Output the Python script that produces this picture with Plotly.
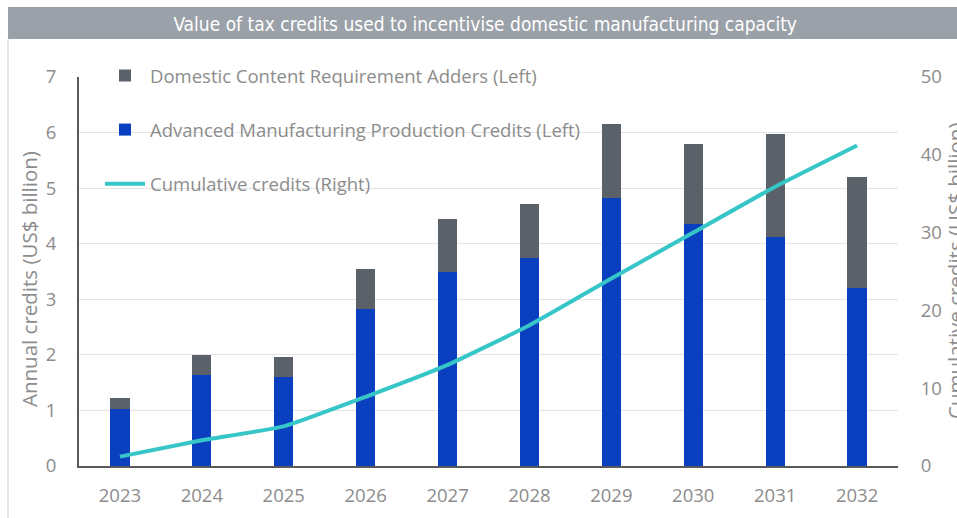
import plotly.graph_objects as go

years = ["2023", "2024", "2025", "2026", "2027", "2028", "2029", "2030", "2031", "2032"]
amp_credits = [1.02, 1.64, 1.60, 2.82, 3.49, 3.75, 4.83, 4.35, 4.12, 3.20]
dcr_adders = [0.20, 0.36, 0.37, 0.73, 0.95, 0.96, 1.33, 1.44, 1.85, 2.00]
cumulative = [1.2, 3.3, 5.1, 8.9, 13.0, 18.1, 24.1, 30.0, 35.9, 41.2]

W, H = 957, 518
L, R, T, B = 79, 59, 77, 52
pw, ph = W - L - R, H - T - B

def px_x(x):
    return (x - L) / pw

def px_y(y):
    return (H - B - y) / ph

text_gray = "#8c8c8c"
font_fam = "Open Sans, Roboto, sans-serif"

fig = go.Figure()
fig.add_trace(go.Bar(
    x=years, y=amp_credits, name="Advanced Manufacturing Production Credits (Left)",
    marker=dict(color="#0a3fbf", line=dict(width=0)),
    legendgroup="b", legendrank=2,
))
fig.add_trace(go.Bar(
    x=years, y=dcr_adders, name="Domestic Content Requirement Adders (Left)",
    marker=dict(color="#5a6168", line=dict(width=0)),
    legendgroup="a", legendrank=1,
))
fig.add_trace(go.Scatter(
    x=years, y=cumulative, name="Cumulative credits (Right)", yaxis="y2",
    mode="lines", line=dict(color="#36c6c8", width=4, shape="spline", smoothing=0.4),
    legendgroup="c", legendrank=3,
))

fig.update_layout(
    width=W, height=H,
    margin=dict(l=L, r=R, t=T, b=B, autoexpand=False),
    paper_bgcolor="white", plot_bgcolor="white",
    barmode="stack", bargap=0.765,
    font=dict(family=font_fam, color=text_gray, size=17),
    title=dict(
        text="Value of tax credits used to incentivise domestic manufacturing capacity",
        x=0.507, xanchor="center", y=1 - 24 / H, yanchor="middle",
        font=dict(family="Liberation Sans Narrow, DejaVu Sans Condensed, Roboto, sans-serif",
                  size=19, color="white"),
    ),
    xaxis=dict(
        showgrid=False, showline=True, linecolor="#595959", linewidth=2,
        ticks="outside", ticklen=12, tickcolor="rgba(0,0,0,0)",
        tickfont=dict(size=18.5, color=text_gray),
        fixedrange=True,
    ),
    yaxis=dict(
        range=[0, 7], dtick=1, showgrid=True, gridcolor="#e3e3e3", gridwidth=1,
        showline=True, linecolor="#595959", linewidth=2, zeroline=False,
        ticks="outside", ticklen=17, tickcolor="rgba(0,0,0,0)",
        tickfont=dict(size=18.5, color=text_gray),
    ),
    yaxis2=dict(
        range=[0, 50], dtick=10, overlaying="y", side="right", showgrid=False,
        showline=False, zeroline=False,
        ticks="outside", ticklen=18, tickcolor="rgba(0,0,0,0)",
        tickfont=dict(size=18.5, color=text_gray),
    ),
    legend=dict(
        x=px_x(100), y=px_y(57), xanchor="left", yanchor="top",
        bgcolor="rgba(0,0,0,0)", traceorder="grouped", tracegroupgap=27,
        itemwidth=40, font=dict(size=18.5, color=text_gray),
    ),
    showlegend=True,
    annotations=[
        dict(text="Annual credits (US$ billion)", textangle=-90, showarrow=False,
             xref="paper", yref="paper", x=px_x(29), y=px_y(279),
             xanchor="center", yanchor="middle",
             font=dict(size=20.5, color=text_gray)),
        dict(text="Cumulative credits (US$ billion)", textangle=-90, showarrow=False,
             xref="paper", yref="paper", x=px_x(955), y=px_y(271),
             xanchor="center", yanchor="middle",
             font=dict(size=20.5, color=text_gray)),
    ],
    shapes=[
        dict(type="rect", xref="paper", yref="paper",
             x0=px_x(8), x1=px_x(W + 2), y0=px_y(39), y1=px_y(7),
             fillcolor="#9ba1a8", line=dict(width=0), layer="below"),
        dict(type="line", xref="paper", yref="paper",
             x0=px_x(8), x1=px_x(8), y0=px_y(39), y1=px_y(H + 2),
             line=dict(color="#dcdcdc", width=1.5)),
    ],
)

fig.write_html("out.html")
